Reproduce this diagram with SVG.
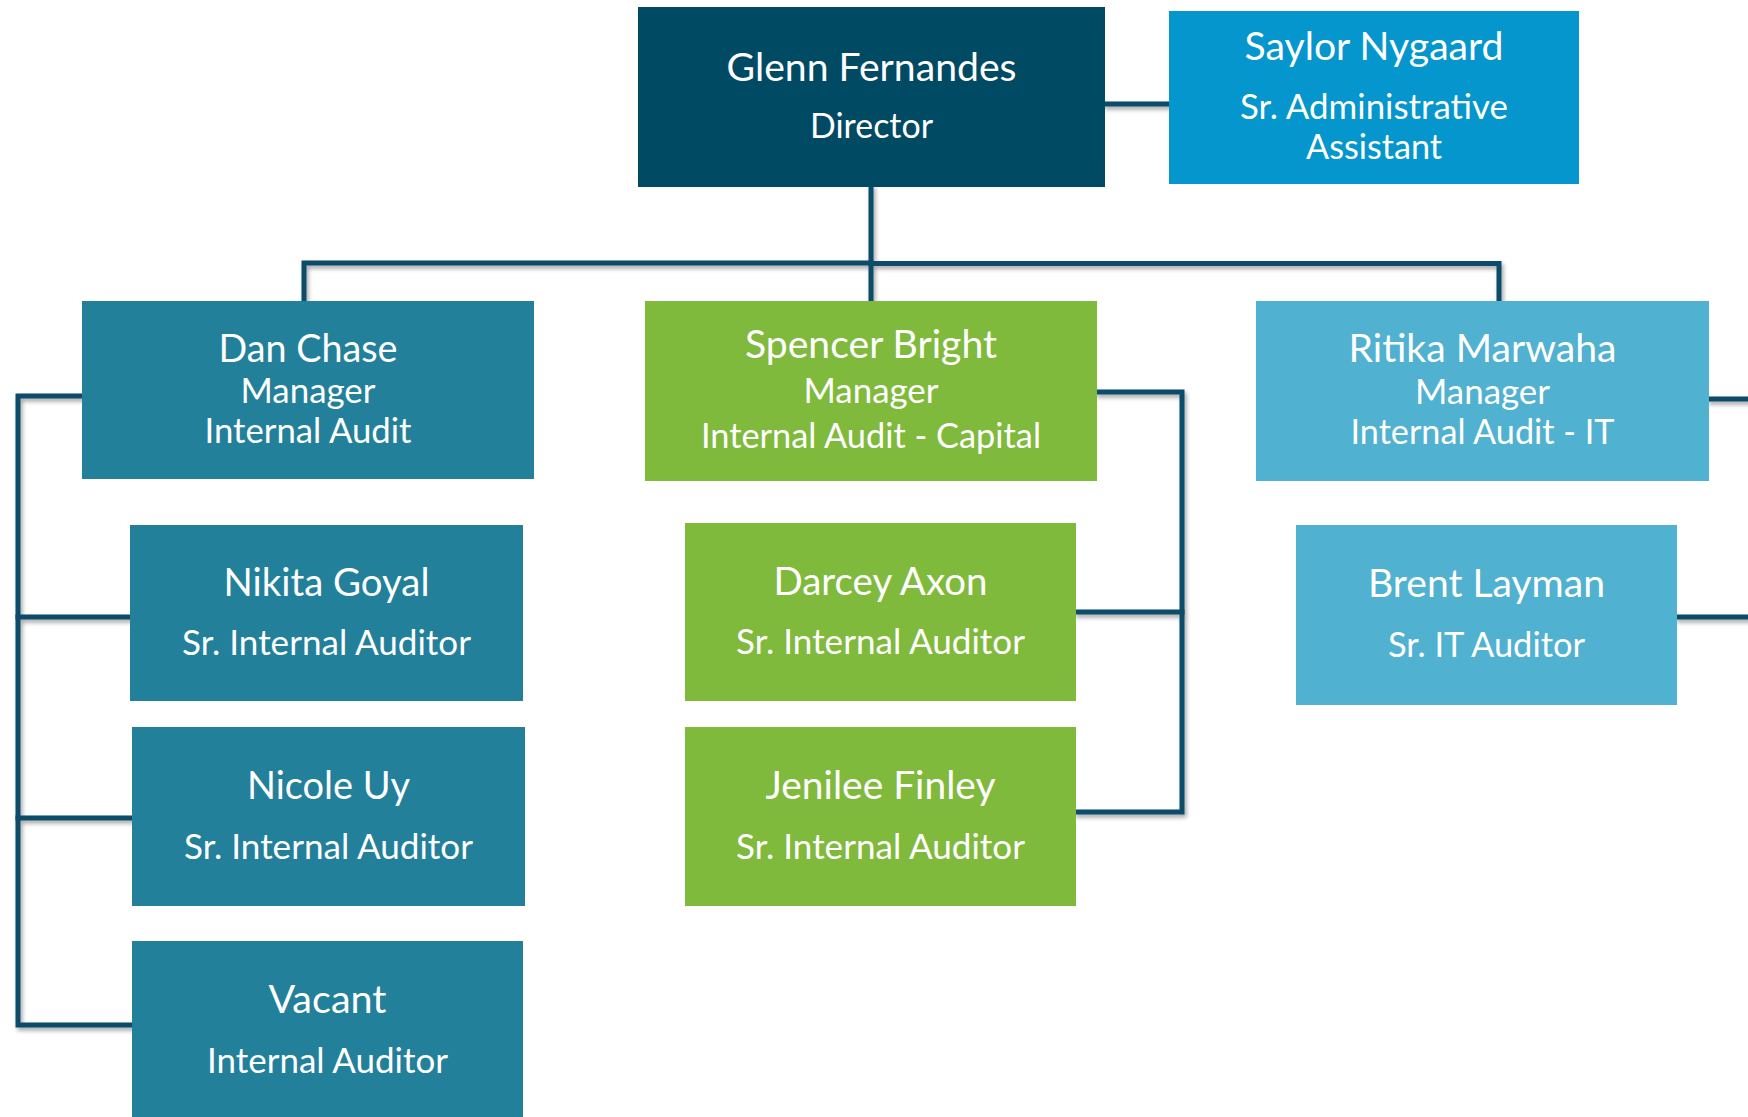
<svg xmlns="http://www.w3.org/2000/svg" width="1748" height="1117" viewBox="0 0 1748 1117">
<defs>
<filter id="sh" x="-10%" y="-10%" width="120%" height="120%">
<feDropShadow dx="2" dy="3" stdDeviation="2" flood-color="#000" flood-opacity="0.35"/>
</filter>
<style>
.ln{fill:none;stroke:#0A4B68;stroke-width:5;stroke-linejoin:miter;stroke-linecap:square}
.t{font-family:Lato,"Open Sans","Liberation Sans",sans-serif;fill:#fff;text-anchor:middle}
.nm{font-size:39px}
.ti{font-size:34px}
.dir{fill:#014A64}
.adm{fill:#0496CC}
.ia{fill:#23809A}
.cap{fill:#80BA3D}
.it{fill:#50B1D0}
</style>
</defs>
<rect width="1748" height="1117" fill="#fff"/>
<g id="connectors" filter="url(#sh)">
<path class="ln" d="M1105 104H1169"/>
<path class="ln" d="M871 187V301"/>
<path class="ln" d="M304 301V263H871"/>
<path class="ln" d="M871 263.5H1499V301"/>
<path class="ln" d="M82 396H18V1025H132"/>
<path class="ln" d="M18 617H130"/>
<path class="ln" d="M18 818H132"/>
<path class="ln" d="M1097 392H1182V812H1076"/>
<path class="ln" d="M1182 612H1076"/>
<path class="ln" d="M1709 399H1752"/>
<path class="ln" d="M1677 617H1752"/>
</g>
<g id="glenn">
<rect class="dir" x="638" y="7" width="467" height="180"/>
<text class="t nm" x="871.5" y="81" textLength="290" lengthAdjust="spacingAndGlyphs">Glenn Fernandes</text>
<text class="t ti" x="871.5" y="138" textLength="123" lengthAdjust="spacingAndGlyphs">Director</text>
</g>
<g id="saylor">
<rect class="adm" x="1169" y="11" width="410" height="173"/>
<text class="t nm" x="1374" y="60" textLength="259" lengthAdjust="spacingAndGlyphs">Saylor Nygaard</text>
<text class="t ti" x="1374" y="119" textLength="268" lengthAdjust="spacingAndGlyphs">Sr. Administrative</text>
<text class="t ti" x="1374" y="159" textLength="136" lengthAdjust="spacingAndGlyphs">Assistant</text>
</g>
<g id="dan">
<rect class="ia" x="82" y="301" width="452" height="178"/>
<text class="t nm" x="308" y="362" textLength="179" lengthAdjust="spacingAndGlyphs">Dan Chase</text>
<text class="t ti" x="308" y="403" textLength="135" lengthAdjust="spacingAndGlyphs">Manager</text>
<text class="t ti" x="308" y="443" textLength="207" lengthAdjust="spacingAndGlyphs">Internal Audit</text>
</g>
<g id="spencer">
<rect class="cap" x="645" y="301" width="452" height="180"/>
<text class="t nm" x="871" y="358" textLength="252" lengthAdjust="spacingAndGlyphs">Spencer Bright</text>
<text class="t ti" x="871" y="403" textLength="135" lengthAdjust="spacingAndGlyphs">Manager</text>
<text class="t ti" x="871" y="448" textLength="340" lengthAdjust="spacingAndGlyphs">Internal Audit - Capital</text>
</g>
<g id="ritika">
<rect class="it" x="1256" y="301" width="453" height="180"/>
<text class="t nm" x="1482.5" y="362" textLength="268" lengthAdjust="spacingAndGlyphs">Ritika Marwaha</text>
<text class="t ti" x="1482.5" y="404" textLength="135" lengthAdjust="spacingAndGlyphs">Manager</text>
<text class="t ti" x="1482.5" y="444" textLength="264" lengthAdjust="spacingAndGlyphs">Internal Audit - IT</text>
</g>
<g id="brent">
<rect class="it" x="1296" y="525" width="381" height="180"/>
<text class="t nm" x="1486.5" y="597" textLength="237" lengthAdjust="spacingAndGlyphs">Brent Layman</text>
<text class="t ti" x="1486.5" y="657" textLength="197" lengthAdjust="spacingAndGlyphs">Sr. IT Auditor</text>
</g>
<g id="nikita">
<rect class="ia" x="130" y="525" width="393" height="176"/>
<text class="t nm" x="326.5" y="596" textLength="206" lengthAdjust="spacingAndGlyphs">Nikita Goyal</text>
<text class="t ti" x="326.5" y="655" textLength="289" lengthAdjust="spacingAndGlyphs">Sr. Internal Auditor</text>
</g>
<g id="nicole">
<rect class="ia" x="132" y="727" width="393" height="179"/>
<text class="t nm" x="328.5" y="799" textLength="163" lengthAdjust="spacingAndGlyphs">Nicole Uy</text>
<text class="t ti" x="328.5" y="859" textLength="289" lengthAdjust="spacingAndGlyphs">Sr. Internal Auditor</text>
</g>
<g id="vacant">
<rect class="ia" x="132" y="941" width="391" height="180"/>
<text class="t nm" x="327.5" y="1013" textLength="118" lengthAdjust="spacingAndGlyphs">Vacant</text>
<text class="t ti" x="327.5" y="1073" textLength="241" lengthAdjust="spacingAndGlyphs">Internal Auditor</text>
</g>
<g id="darcey">
<rect class="cap" x="685" y="523" width="391" height="178"/>
<text class="t nm" x="880.5" y="595" textLength="214" lengthAdjust="spacingAndGlyphs">Darcey Axon</text>
<text class="t ti" x="880.5" y="654" textLength="289" lengthAdjust="spacingAndGlyphs">Sr. Internal Auditor</text>
</g>
<g id="jenilee">
<rect class="cap" x="685" y="727" width="391" height="179"/>
<text class="t nm" x="880.5" y="799" textLength="230" lengthAdjust="spacingAndGlyphs">Jenilee Finley</text>
<text class="t ti" x="880.5" y="859" textLength="289" lengthAdjust="spacingAndGlyphs">Sr. Internal Auditor</text>
</g>
</svg>
